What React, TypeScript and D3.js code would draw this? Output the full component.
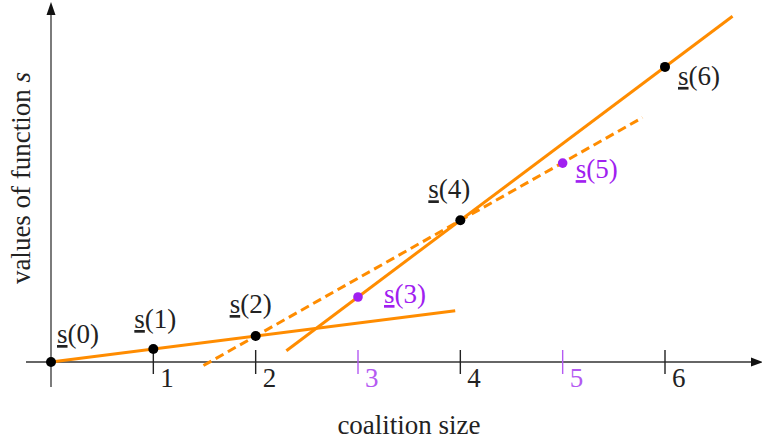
import React from "react";
import * as d3 from "d3";

// coalition sizes and values of s
const sizes = [0, 1, 2, 3, 4, 5, 6];
const sValues = [0, 1, 2, 5, 10.9, 15.3, 22.7];
// which points (and ticks) are highlighted in purple
const highlighted = [3, 5];

// line pieces: [x0, y0, x1, y1] in data units
const solidLines = [
  [0, 0, 3.95, 3.95],
  [2.3, 0.87, 6.66, 26.6],
];
const dashedLines = [[1.49, -0.27, 5.78, 18.8]];

// label offsets per point [dx, dy] in px
const labelOffsets = [
  [6, -19],
  [-19, -21],
  [-26, -23],
  [26, 6],
  [-32, -22],
  [13, 15],
  [13, 18],
];

const W = 762;
const H = 443;
const ORANGE = "#ff8c00";
const PURPLE = "#a020f0";
const PURPLE_LIGHT = "#b45af2";
const INK = "#222";
const FONT = "Liberation Serif";
const FS = 27;

export default function App() {
  const x = d3.scaleLinear().domain([0, 6]).range([51, 665]);
  const y = d3.scaleLinear().domain([0, 25]).range([362, 37]);
  const x0 = x(0);
  const y0 = y(0);
  const ts = { fontFamily: FONT, fontSize: FS + "px" };

  return (
    <svg
      width={W}
      height={H}
      style={{ position: "absolute", left: 0, top: 0, background: "#fff" }}
    >
      {/* axes */}
      <line x1={26} y1={y0} x2={752} y2={y0} stroke="#333" strokeWidth={1.4} />
      <path d={`M763,${y0} L751,${y0 - 4.5} L751,${y0 + 4.5} Z`} fill="#111" />
      <line x1={x0} y1={387} x2={x0} y2={12} stroke="#444" strokeWidth={1.4} />
      <path d={`M${x0},2 L${x0 - 4.5},15 L${x0 + 4.5},15 Z`} fill="#111" />

      {/* ticks */}
      {sizes.slice(1).map((d) => {
        const hl = highlighted.includes(d);
        return (
          <g key={d}>
            <line
              x1={x(d)}
              x2={x(d)}
              y1={y0 - 12}
              y2={y0 + 12}
              stroke={hl ? PURPLE_LIGHT : "#222"}
              strokeWidth={1.4}
            />
            <text x={x(d) + 7} y={y0 + 25} fill={hl ? PURPLE_LIGHT : INK} style={ts}>
              {d}
            </text>
          </g>
        );
      })}

      {/* lines */}
      {solidLines.map((l, i) => (
        <line
          key={"s" + i}
          x1={x(l[0])}
          y1={y(l[1])}
          x2={x(l[2])}
          y2={y(l[3])}
          stroke={ORANGE}
          strokeWidth={3}
        />
      ))}
      {dashedLines.map((l, i) => (
        <line
          key={"d" + i}
          x1={x(l[0])}
          y1={y(l[1])}
          x2={x(l[2])}
          y2={y(l[3])}
          stroke={ORANGE}
          strokeWidth={3}
          strokeDasharray="9,5"
        />
      ))}

      {/* points and labels */}
      {sizes.map((d, i) => {
        const hl = highlighted.includes(d);
        const px = x(d);
        const py = y(sValues[i]);
        const [dx, dy] = labelOffsets[i];
        return (
          <g key={"p" + d}>
            <circle cx={px} cy={py} r={hl ? 4.8 : 5} fill={hl ? PURPLE : "#000"} />
            <text x={px + dx} y={py + dy} fill={hl ? PURPLE : INK} style={ts}>
              <tspan style={{ textDecoration: "underline" }}>s</tspan>({d})
            </text>
          </g>
        );
      })}

      {/* axis titles */}
      <text x={409} y={434} fill={INK} textAnchor="middle" style={ts}>
        coalition size
      </text>
      <text
        transform={`translate(30,178) rotate(-90)`}
        fill={INK}
        textAnchor="middle"
        style={ts}
      >
        values of function <tspan fontStyle="italic">s</tspan>
      </text>
    </svg>
  );
}
